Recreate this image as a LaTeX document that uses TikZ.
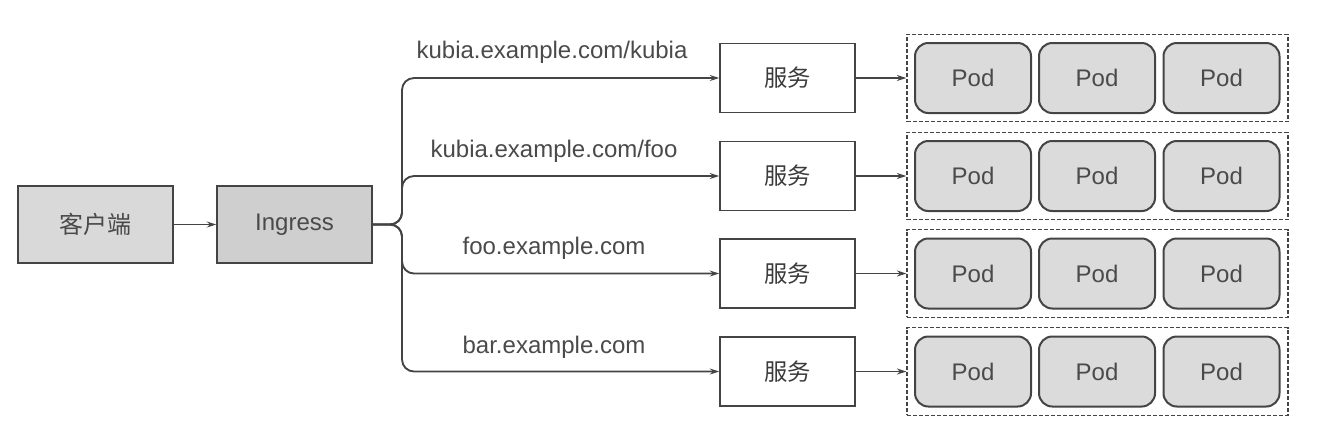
\documentclass[tikz,border=0pt]{standalone}
\usepackage{fontspec}
\setmainfont{Liberation Sans}
\newfontfamily\cjk{Noto Sans CJK SC}
\usetikzlibrary{arrows.meta}
\definecolor{ink}{HTML}{444444}
\definecolor{txt}{HTML}{4A4A4A}
\definecolor{clientfill}{HTML}{D9D9D9}
\definecolor{ingfill}{HTML}{CFCFCF}
\definecolor{podfill}{HTML}{DBDBDB}
\tikzset{
  graybox/.style={draw=ink, line width=1.3pt, inner sep=0pt, minimum width=116.25pt, minimum height=57.75pt, font=\fontsize{18}{20}\selectfont, text=txt},
  svcbox/.style={draw=ink, line width=1.3pt, fill=white, inner sep=0pt, minimum width=101.25pt, minimum height=51.75pt, font=\cjk\fontsize{17.5}{20}\selectfont, text=txt!80!black},
  podbox/.style={draw=ink, line width=1.5pt, fill=podfill, rounded corners=10pt, inner sep=0pt, minimum width=87pt, minimum height=52.5pt, font=\fontsize{18}{20}\selectfont, text=txt},
  grpbox/.style={draw=ink, line width=1pt, dash pattern=on 3pt off 1.5pt, inner sep=0pt, minimum width=285.75pt, minimum height=65.6pt},
  lbl/.style={font=\fontsize{18}{20}\selectfont, text=txt, inner sep=0pt},
  conn/.style={draw=ink, line width=1.4pt, -{Stealth[length=7pt,width=4.5pt]}},
  branch/.style={conn, rounded corners=9pt},
}
\begin{document}
\begin{tikzpicture}[x=0.75pt,y=-0.75pt]
\useasboundingbox (0,0) rectangle (1328,426);
\node[graybox, fill=clientfill, font=\cjk\fontsize{18}{20}\selectfont] (client) at (95.5,224.5) {客户端};
\node[graybox, fill=ingfill] (ingress) at (294.5,224.5) {Ingress};
\draw[conn] (client.east) -- (ingress.west);

\foreach \i/\y in {1/78,2/176,3/273.5,4/371.5}{
  \node[svcbox] (s\i) at (787.5,\y) {服务};
  \node[grpbox] (g\i) at (1097.5,\y) {};
  \node[podbox] (p\i a) at (973,\y) {Pod};
  \node[podbox] (p\i b) at (1097,\y) {Pod};
  \node[podbox] (p\i c) at (1221.5,\y) {Pod};
  \draw[conn] (s\i.east) -- (g\i.west);
}

\coordinate (fork) at (402,224.5);
\draw[branch] (ingress.east) -- (fork) -- (402,78) -- (s1.west);
\draw[branch] (ingress.east) -- (fork) -- (402,176) -- (s2.west);
\draw[branch] (ingress.east) -- (fork) -- (402,273.5) -- (s3.west);
\draw[branch] (ingress.east) -- (fork) -- (402,371.5) -- (s4.west);

\node[lbl] (l1) at (552,52) {kubia.example.com/kubia};
\node[lbl] (l2) at (554,151) {kubia.example.com/foo};
\node[lbl] (l3) at (554,248) {foo.example.com};
\node[lbl] (l4) at (554,347) {bar.example.com};
\end{tikzpicture}
\end{document}
